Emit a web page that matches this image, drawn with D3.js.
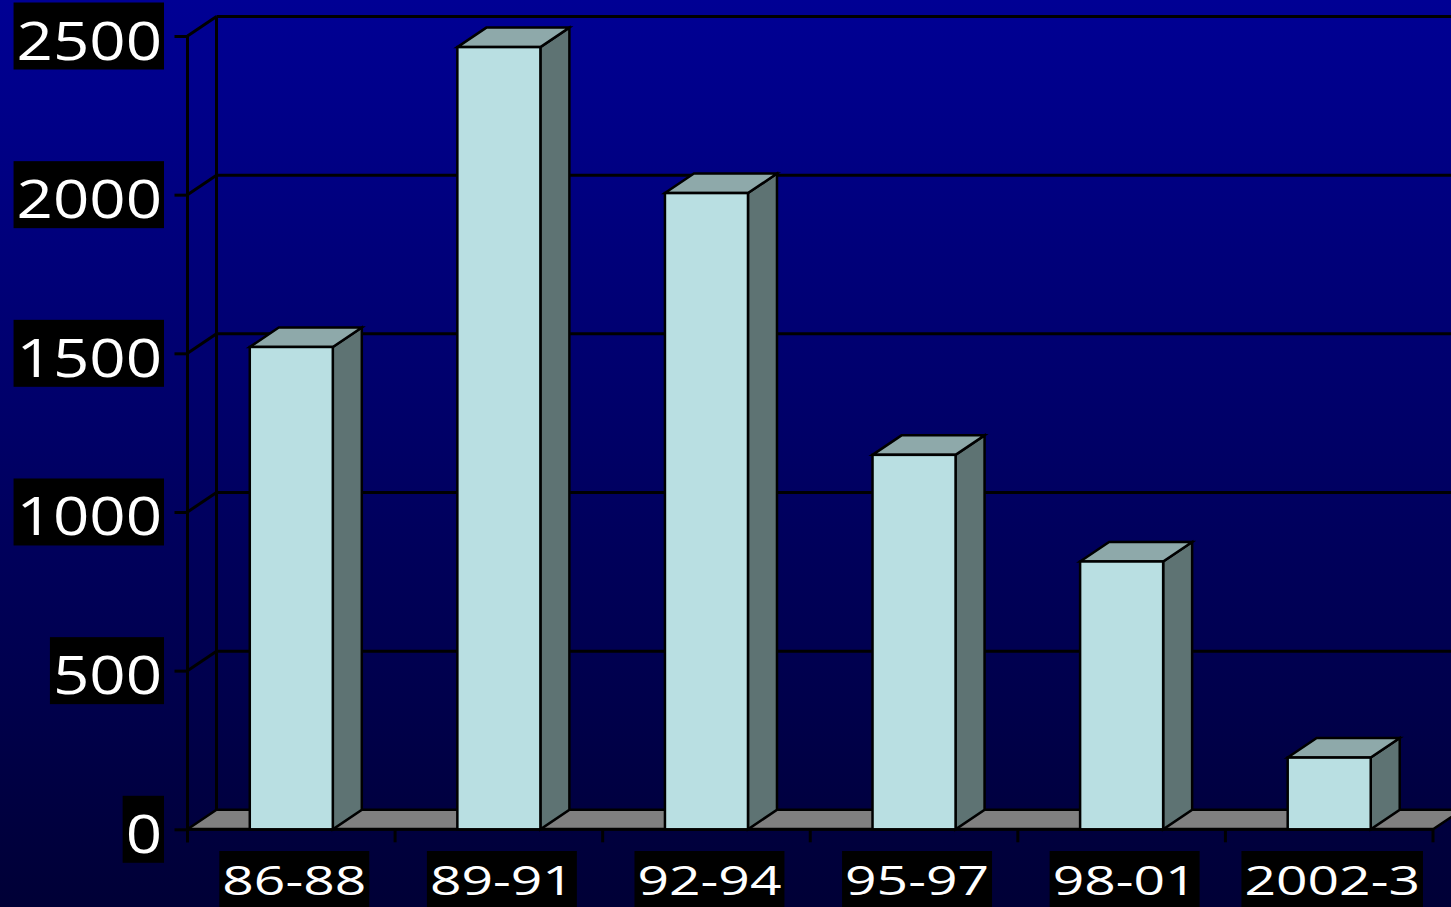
<!DOCTYPE html>
<html>
<head>
<meta charset="utf-8">
<script src="https://cdn.jsdelivr.net/npm/d3@7"></script>
<style>
  html, body { margin: 0; padding: 0; background: #000060; overflow: hidden; }
  svg { display: block; }
  text { font-family: "Open Sans", "Noto Sans", sans-serif; fill: #ffffff; }
</style>
</head>
<body>
<svg id="chart" width="1451" height="907"></svg>
<script>
// Periods and counts
const categories = ["86-88", "89-91", "92-94", "95-97", "98-01", "2002-3"];
const values = [1520, 2465, 2005, 1180, 844, 226];
const yTicks = [0, 500, 1000, 1500, 2000, 2500];

const W = 1451, H = 907;
const DX = 29, DY = -19.5;          // depth offset of the 3-D box
const svg = d3.select("#chart");

// Background gradient
const defs = svg.append("defs");
const grad = defs.append("linearGradient").attr("id", "bg")
  .attr("x1", 0).attr("y1", 0).attr("x2", 0).attr("y2", 1);
grad.append("stop").attr("offset", "0%").attr("stop-color", "#000094");
grad.append("stop").attr("offset", "100%").attr("stop-color", "#000036");
svg.append("rect").attr("width", W).attr("height", H).attr("fill", "url(#bg)");

// Scales
const y = d3.scaleLinear().domain([0, 2500]).range([829.3, 36]);
const x = d3.scaleBand().domain(categories).range([187.5, 1433])
  .paddingInner(0.6).paddingOuter(0.3);
const x0 = x.range()[0], x1 = x.range()[1];
const step = x.step();

const walls = svg.append("g").attr("stroke", "#000").attr("stroke-width", 3).attr("fill", "none");

// Back wall gridlines
walls.selectAll("line.grid").data(yTicks.filter(d => d > 0)).join("line")
  .attr("class", "grid")
  .attr("x1", x0 + DX).attr("x2", x1 + DX)
  .attr("y1", d => y(d) + DY).attr("y2", d => y(d) + DY);
// Side wall diagonals
walls.selectAll("line.side").data(yTicks.filter(d => d > 0)).join("line")
  .attr("class", "side")
  .attr("x1", x0).attr("x2", x0 + DX)
  .attr("y1", d => y(d)).attr("y2", d => y(d) + DY);
// Back wall left edge
walls.append("line")
  .attr("x1", x0 + DX).attr("x2", x0 + DX)
  .attr("y1", y(2500) + DY).attr("y2", y(0) + DY);

// Floor
svg.append("polygon")
  .attr("points", [[x0, y(0)], [x1, y(0)], [x1 + DX, y(0) + DY], [x0 + DX, y(0) + DY]].join(" "))
  .attr("fill", "#808080").attr("stroke", "#000").attr("stroke-width", 2.5)
  .attr("stroke-linejoin", "miter");

// Y axis (front edge) with outward ticks
const yAxis = svg.append("g").attr("transform", `translate(${x0},0)`)
  .call(d3.axisLeft(y).tickValues(yTicks).tickSize(13).tickFormat(""));
yAxis.select(".domain").remove();
yAxis.selectAll(".tick line").attr("stroke", "#000").attr("stroke-width", 3);
svg.append("line").attr("x1", x0).attr("x2", x0)
  .attr("y1", y(2500)).attr("y2", y(0) + 13)
  .attr("stroke", "#000").attr("stroke-width", 3);

// X axis line and boundary ticks
svg.append("line").attr("x1", x0).attr("x2", x1)
  .attr("y1", y(0)).attr("y2", y(0))
  .attr("stroke", "#000").attr("stroke-width", 3);
svg.selectAll("line.xtick").data(d3.range(categories.length + 1)).join("line")
  .attr("class", "xtick")
  .attr("x1", i => x0 + i * step).attr("x2", i => x0 + i * step)
  .attr("y1", y(0)).attr("y2", y(0) + 13)
  .attr("stroke", "#000").attr("stroke-width", 3);

// 3-D bars
const bw = x.bandwidth();
const bars = svg.append("g").selectAll("g.bar")
  .data(categories.map((c, i) => ({ c, v: values[i] }))).join("g").attr("class", "bar")
  .attr("stroke", "#000").attr("stroke-width", 2.5).attr("stroke-linejoin", "miter");
bars.append("polygon") // side face
  .attr("points", d => {
    const l = x(d.c) + bw, t = y(d.v), b = y(0);
    return [[l, t], [l + DX, t + DY], [l + DX, b + DY], [l, b]].join(" ");
  })
  .attr("fill", "#5e7373");
bars.append("polygon") // top face
  .attr("points", d => {
    const l = x(d.c), t = y(d.v);
    return [[l, t], [l + DX, t + DY], [l + bw + DX, t + DY], [l + bw, t]].join(" ");
  })
  .attr("fill", "#8ea9aa");
bars.append("rect") // front face
  .attr("x", d => x(d.c)).attr("y", d => y(d.v))
  .attr("width", bw).attr("height", d => y(0) - y(d.v))
  .attr("fill", "#b9dfe2");

// Y tick labels on black boxes
const ySX = 1.2;
yTicks.forEach(v => {
  const g = svg.append("g").attr("transform", `translate(162,${y(v) + 23.5}) scale(${ySX},1)`);
  const r = g.append("rect").attr("fill", "#000");
  const t = g.append("text").attr("text-anchor", "end")
    .attr("font-size", 53).text(d3.format("d")(v));
  const bb = t.node().getBBox();
  const left = bb.x - 3 / ySX, right = 2 / ySX;
  r.attr("x", left).attr("width", right - left)
    .attr("y", -57).attr("height", 67);
});

// X category labels on black boxes
const xSX = 1.38;
categories.forEach(c => {
  const cx = x(c) + bw / 2 + 3;
  const g = svg.append("g").attr("transform", `translate(${cx},895) scale(${xSX},1)`);
  const r = g.append("rect").attr("fill", "#000");
  const t = g.append("text").attr("text-anchor", "middle")
    .attr("font-size", 40).text(c);
  const bb = t.node().getBBox();
  r.attr("x", bb.x - 3 / xSX).attr("width", bb.width + 6 / xSX)
    .attr("y", 851 - 895).attr("height", 60);
});
</script>
</body>
</html>
